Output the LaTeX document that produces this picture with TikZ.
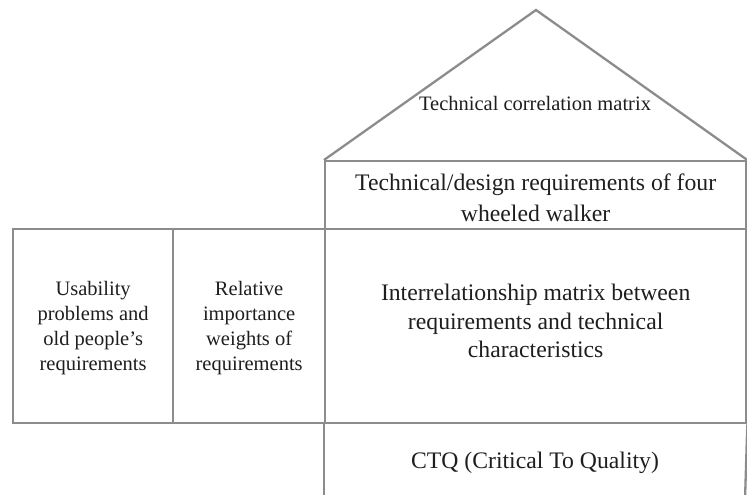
\documentclass[tikz,border=0pt]{standalone}
\usepackage{fontspec}
\setmainfont{Liberation Serif}
\definecolor{linegray}{HTML}{8C8C8C}
\definecolor{ink}{HTML}{1E1E1E}
\begin{document}
\begin{tikzpicture}[x=1pt,y=-1pt,
  frame/.style={draw=linegray,line width=2.3pt},
  cell/.style={frame,anchor=north west,inner sep=0pt},
  lbl/.style={text=ink,align=center,inner sep=0pt},
  smalltext/.style={font=\fontsize{20.5}{25}\selectfont},
  bigtext/.style={font=\fontsize{23.7}{28.5}\selectfont}]
\useasboundingbox (0,0) rectangle (747,495);
\clip (0,0) rectangle (747,495);

% roof of the house
\coordinate (apex) at (536,10);
\node[cell,minimum width=421pt,minimum height=68pt] (design) at (324,160) {};
\draw[frame,line join=miter] (design.north west) -- (apex) -- (design.north east);
\node[lbl,smalltext] (roof) at (535,103) {Technical correlation matrix};

% left wall and the central matrix
\node[cell,minimum width=160pt,minimum height=194pt] (needs) at (12,228) {};
\node[cell,minimum width=152pt,minimum height=194pt] (weights) at (172,228) {};
\node[cell,minimum width=421pt,minimum height=194pt] (matrix) at (324,228) {};

% open-bottomed CTQ section
\coordinate (ctqL) at (324,500);
\coordinate (ctqR) at (745,500);
\draw[frame] (matrix.south west) -- (ctqL);
\draw[frame] (matrix.south east) -- (ctqR);

% labels
\node[lbl,font=\fontsize{23.7}{31}\selectfont] (designtxt) at ([yshift=-3pt]design.center)
  {Technical/design requirements of four\\wheeled walker};
\node[lbl,smalltext] (needstxt) at ([yshift=-1.5pt]needs.center)
  {Usability\\problems and\\old people’s\\requirements};
\node[lbl,smalltext] (weightstxt) at ([yshift=-1.5pt]weights.center)
  {Relative\\importance\\weights of\\requirements};
\node[lbl,bigtext] (matrixtxt) at ([yshift=5pt]matrix.center)
  {Interrelationship matrix between\\requirements and technical\\characteristics};
\node[lbl,bigtext] (ctq) at (535,463) {CTQ (Critical To Quality)};
\end{tikzpicture}
\end{document}
